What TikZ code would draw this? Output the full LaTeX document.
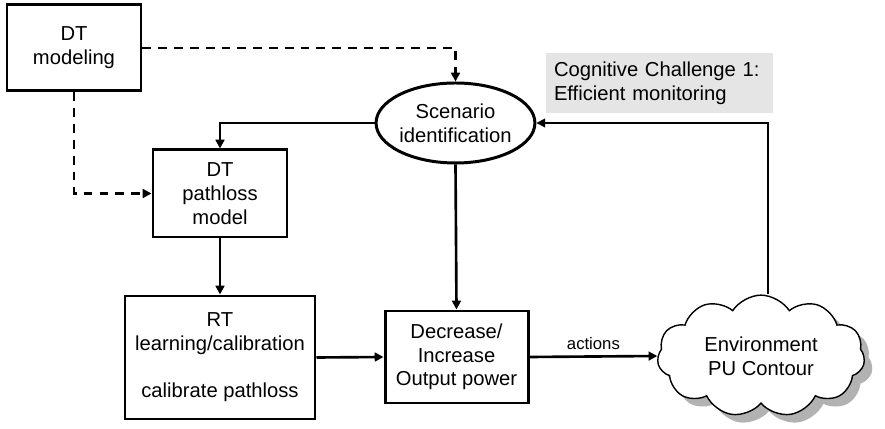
\documentclass[tikz,border=0pt]{standalone}
\usepackage{fontspec}
\setmainfont{Liberation Sans}
\usetikzlibrary{arrows.meta,shapes.geometric,shapes.symbols,shadows}
\colorlet{notegray}{black!10}

\tikzset{
    blk/.style={draw, line width=1.7pt, align=center, inner sep=2pt,
        font=\fontsize{11.5}{13.5}\selectfont},
    flow/.style={line width=1.5pt, -{Triangle[length=5pt,width=5pt]}},
    dflow/.style={flow, dash pattern=on 5pt off 4pt}
}

\begin{document}
\begin{tikzpicture}
    \useasboundingbox (0,0) rectangle (17.7,8.58);

    \node[blk, minimum width=2.68cm, minimum height=1.72cm] (model) at (1.48,7.62) {DT\\modeling};
    \node[blk, minimum width=2.68cm, minimum height=1.74cm] (plmodel) at (4.40,4.71) {DT\\pathloss\\model};
    \node[blk, minimum width=3.80cm, minimum height=2.46cm] (rt) at (4.40,1.43)
        {RT\\learning/calibration\\[13.5pt]calibrate pathloss};
    \node[blk, minimum width=2.86cm, minimum height=1.84cm] (power) at (9.13,1.44)
        {Decrease/\\Increase\\Output power};
    \node[blk, ellipse, inner sep=0pt, minimum width=2.9cm, minimum height=1.6cm] (scen) at (9.11,6.12)
        {Scenario\\identification};
    \node[fill=notegray, align=left, font=\fontsize{11.5}{13.5}\selectfont, inner sep=0pt,
        minimum width=4.54cm, minimum height=1.2cm, text width=4.22cm] (note) at (13.19,6.92)
        {Cognitive Challenge 1:\\Efficient monitoring};
    \node[draw, cloud, cloud puffs=11, cloud puff arc=115, aspect=1.8, line width=0.8pt,
        fill=white, minimum width=4.15cm, minimum height=2.3cm, align=center,
        font=\fontsize{11.5}{13.5}\selectfont,
        drop shadow={shadow xshift=0.16cm, shadow yshift=-0.16cm, fill=black!60}]
        (env) at (15.22,1.46) {Environment\\PU Contour};

    \draw[dflow] (model.east) -| (scen.north);
    \draw[dflow] (model.south) |- (plmodel.west);
    \draw[flow] (scen.west) -| (plmodel.north);
    \draw[flow] (plmodel.south) -- (rt.north);
    \draw[flow] (scen.south) -- (power.north);
    \draw[flow] (rt.east) -- (power.west);
    \draw[flow] (power.east) -- node[above, font=\fontsize{9.5}{11}\selectfont] {actions} (env.west);
    \draw[flow, line width=1pt] ([xshift=0.14cm]env.north) |- (scen.east);
\end{tikzpicture}
\end{document}
